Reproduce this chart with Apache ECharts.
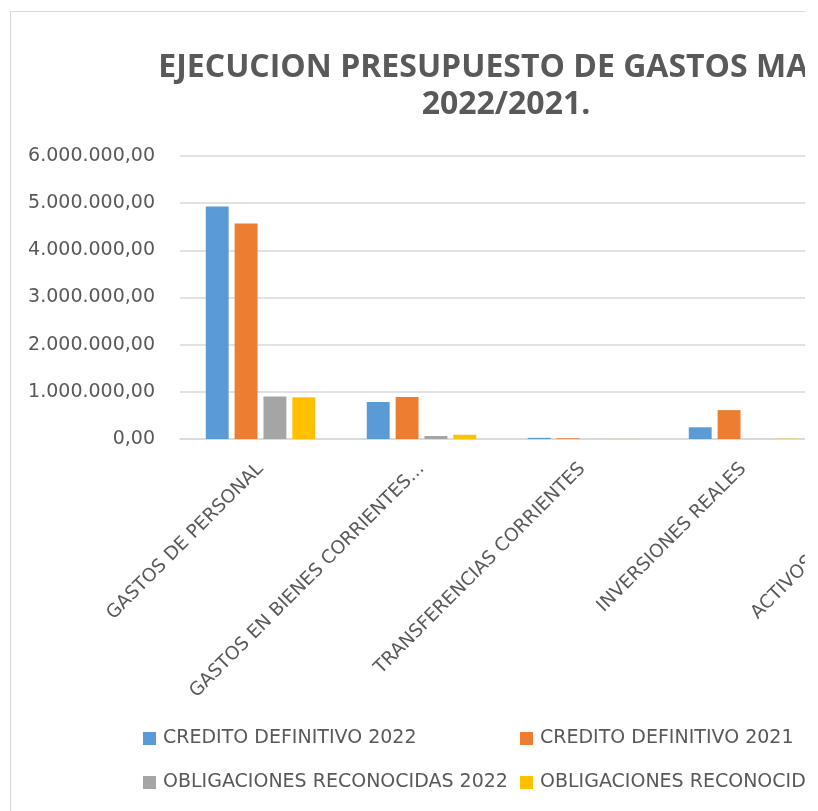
<!DOCTYPE html>
<html>
<head>
<meta charset="utf-8">
<script src="https://cdn.jsdelivr.net/npm/echarts@6/dist/echarts.min.js"></script>
<style>
  html, body { margin: 0; padding: 0; background: #fff; overflow: hidden; width: 818px; height: 811px; }
  #clip { position: absolute; left: 0; top: 0; width: 805px; height: 811px; overflow: hidden; }
  #chart { position: absolute; left: 10px; top: 11px; width: 990px; height: 820px; border: 1px solid #d9d9d9; }
</style>
</head>
<body>
<div id="clip"><div id="chart"></div></div>
<script>
const categories = [
  'GASTOS DE PERSONAL',
  'GASTOS EN BIENES CORRIENTES Y SERVICIOS',
  'TRANSFERENCIAS CORRIENTES',
  'INVERSIONES REALES',
  'ACTIVOS FINANCIEROS'
];
const seriesNames = [
  'CREDITO DEFINITIVO 2022',
  'CREDITO DEFINITIVO 2021',
  'OBLIGACIONES RECONOCIDAS 2022',
  'OBLIGACIONES RECONOCIDAS 2021'
];
const credito2022 = [4930000, 784000, 25000, 248000, 10000];
const credito2021 = [4570000, 890000, 15000, 612000, 10000];
const obligaciones2022 = [900000, 64000, 2000, 2000, 0];
const obligaciones2021 = [885000, 90000, 2000, 6000, 0];
const colors = ['#5B9BD5', '#ED7D31', '#A5A5A5', '#FFC000'];

const textColor = '#595959';
const font = 'DejaVu Sans';

const fmt = (v) => {
  const s = Math.round(v).toString().replace(/\B(?=(\d{3})+(?!\d))/g, '.');
  return s + ',00';
};

// long category names are cut like the spreadsheet does
const shortName = (v) => (v.length > 30 ? v.slice(0, 27) + '...' : v);

const chart = echarts.init(document.getElementById('chart'));

const legendPos = [
  { left: 132, top: 717 },
  { left: 509, top: 717 },
  { left: 132, top: 761 },
  { left: 509, top: 761 }
];

const option = {
  animation: false,
  color: colors,
  title: {
    text: 'EJECUCION PRESUPUESTO DE GASTOS MAYO\n2022/2021.',
    left: 'center',
    top: 32,
    textStyle: {
      color: textColor,
      fontFamily: 'Open Sans',
      fontSize: 32,
      fontWeight: 'bold',
      lineHeight: 37
    }
  },
  legend: seriesNames.map((n, i) => ({
    data: [n],
    left: legendPos[i].left,
    top: legendPos[i].top,
    padding: 0,
    icon: 'rect',
    itemWidth: 13,
    itemHeight: 13,
    selectedMode: false,
    textStyle: { color: textColor, fontFamily: font, fontSize: 19, padding: [0, 0, 0, 2] }
  })),
  grid: {
    left: 169,
    top: 144,
    width: 805,
    height: 283
  },
  xAxis: {
    type: 'category',
    data: categories,
    axisLine: { lineStyle: { color: '#d9d9d9', width: 1.5 } },
    axisTick: { show: false },
    axisLabel: {
      interval: 0,
      rotate: 45,
      margin: 27,
      color: textColor,
      fontFamily: font,
      fontSize: 18.5,
      formatter: shortName
    }
  },
  yAxis: {
    type: 'value',
    min: 0,
    max: 6000000,
    interval: 1000000,
    axisLine: { show: false },
    axisTick: { show: false },
    splitLine: { lineStyle: { color: '#d9d9d9', width: 1.5 } },
    axisLabel: {
      margin: 25,
      color: textColor,
      fontFamily: font,
      fontSize: 19,
      formatter: fmt
    }
  },
  series: [credito2022, credito2021, obligaciones2022, obligaciones2021].map((d, i) => ({
    name: seriesNames[i],
    type: 'bar',
    data: d,
    barCategoryGap: '32%',
    barGap: '26%'
  }))
};

chart.setOption(option);
</script>
</body>
</html>
